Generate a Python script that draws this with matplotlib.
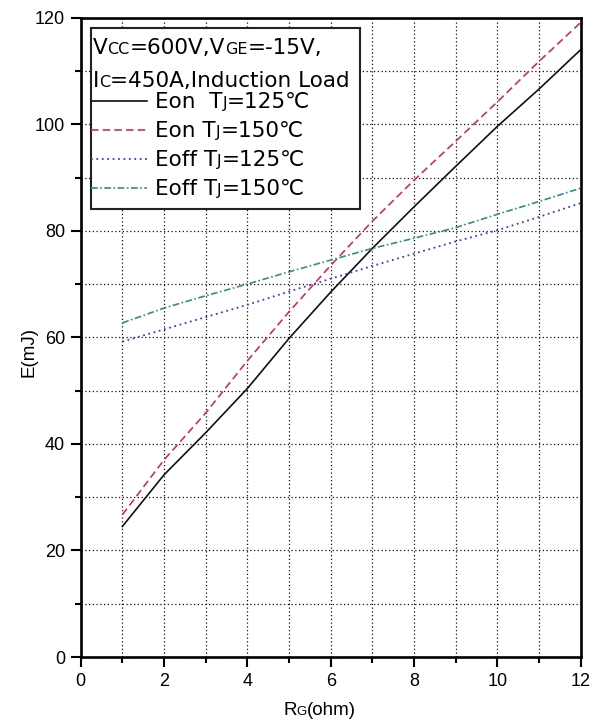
"""
plot.py - switching energy vs gate resistance (IGBT datasheet style).
"""

import matplotlib
matplotlib.use("Agg")
import matplotlib.pyplot as plt
from matplotlib.patches import Rectangle
from matplotlib.ticker import MultipleLocator

plt.rcParams["font.family"] = ["Liberation Sans", "DejaVu Sans"]

# data
rg = [1, 2, 3, 4, 5, 6, 7, 8, 9, 10, 11, 12]
eon_125 = [24.5, 34.2, 42.1, 50.4, 59.8, 68.5, 76.7, 84.5, 92.1, 99.6, 106.6, 114.0]
eon_150 = [26.7, 37.0, 45.8, 55.6, 64.8, 73.5, 81.8, 89.5, 96.8, 104.2, 111.8, 119.1]
eoff_125 = [59.2, 61.5, 63.8, 66.1, 68.6, 71.0, 73.4, 75.7, 78.0, 80.1, 82.6, 85.2]
eoff_150 = [62.7, 65.5, 67.8, 70.0, 72.3, 74.5, 76.7, 78.6, 80.6, 83.1, 85.5, 88.0]

BIG = 15.5
SMALL = 11.5
LEG_FONT = ["DejaVu Sans"]
DESC = 0.236  # descent ratio used to keep baselines aligned


def rich_after(ax, prev, prev_fs, parts, family=LEG_FONT):
    # chain text pieces to the right of prev, keeping a common baseline
    for s, fs in parts:
        prev = ax.annotate(s, xy=(1, 0), xycoords=prev,
                           xytext=(0, DESC * (prev_fs - fs)), textcoords="offset points",
                           fontsize=fs, va="bottom", ha="left", zorder=7, family=family)
        prev_fs = fs
    return prev


fig, ax = plt.subplots(figsize=(5.95, 7.24), dpi=100)
fig.subplots_adjust(left=0.1356, right=0.976, top=0.9756, bottom=0.0925)

ax.plot(rg, eon_125, color="#111111", lw=1.2, ls="-", label="Eon  T")
ax.plot(rg, eon_150, color="#D0304F", lw=1.2, ls=(0, (4.5, 2.5)), label="Eon T")
ax.plot(rg, eoff_125, color="#3C3CC8", lw=1.3, ls=(0, (1, 2)), label="Eoff T")
ax.plot(rg, eoff_150, color="#2F8F80", lw=1.2, ls=(0, (4, 1.5, 1, 1.5)), label="Eoff T")

ax.set_xlim(0, 12)
ax.set_ylim(0, 120)
ax.xaxis.set_major_locator(MultipleLocator(2))
ax.xaxis.set_minor_locator(MultipleLocator(1))
ax.yaxis.set_major_locator(MultipleLocator(20))
ax.yaxis.set_minor_locator(MultipleLocator(10))
ax.grid(True, which="both", color="#111111", ls=(0, (1, 2)), lw=0.9)
ax.set_axisbelow(True)

ax.tick_params(which="major", direction="out", length=7.2, width=1.5, labelsize=13, pad=4)
ax.tick_params(which="minor", direction="out", length=4, width=1.5)
for sp in ax.spines.values():
    sp.set_linewidth(1.9)

# axis labels (x label has a small-cap "G")
ax.text(-0.103, 0.477, "E(mJ)", transform=ax.transAxes, fontsize=13.5,
        rotation=90, va="center", ha="center")
xlab = ax.text(0.405, -0.0906, "R", transform=ax.transAxes, fontsize=13.5,
               va="baseline", ha="left")
rich_after(ax, xlab, 13.5, [("G", 9.5), ("(ohm)", 13.5)], family=None)

# legend box
ax.add_patch(Rectangle((0.021, 0.70), 0.538, 0.284, transform=ax.transAxes,
                       facecolor="white", edgecolor="#222222", lw=1.5, zorder=5))

h1 = ax.text(0.024, 0.943, "V", transform=ax.transAxes, fontsize=BIG,
             va="baseline", ha="left", zorder=7, family=LEG_FONT)
rich_after(ax, h1, BIG, [("CC", SMALL), ("=600V,V", BIG), ("GE", SMALL), ("=-15V,", BIG)])
h2 = ax.text(0.024, 0.891, "I", transform=ax.transAxes, fontsize=BIG,
             va="baseline", ha="left", zorder=7, family=LEG_FONT)
rich_after(ax, h2, BIG, [("C", SMALL), ("=450A,Induction Load", BIG)])

leg = ax.legend(loc="upper left", bbox_to_anchor=(0.021, 0.8835), frameon=False,
                prop={"family": LEG_FONT, "size": BIG},
                handlelength=2.6, handletextpad=0.37, labelspacing=0.42,
                borderpad=0, borderaxespad=0)
leg.set_zorder(6)
temps = ["=125\u2103", "=150\u2103", "=125\u2103", "=150\u2103"]
for t, temp in zip(leg.get_texts(), temps):
    rich_after(ax, t, BIG, [("J", SMALL), (temp, BIG)])

fig.savefig("out.png", dpi=100)
